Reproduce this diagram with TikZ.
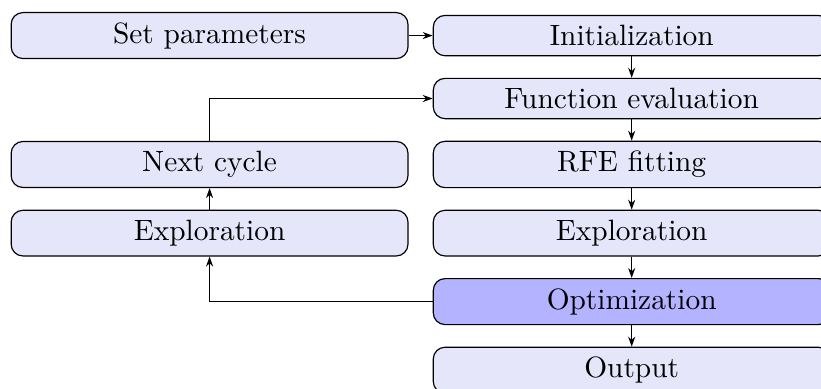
\documentclass[tikz,border=0pt]{standalone}
\usepackage{xcolor}
\usepackage{tikz}
\usetikzlibrary{arrows.meta,positioning}
\definecolor{steplav}{HTML}{E6E6FA}
\definecolor{optlav}{HTML}{B3B3FF}
\tikzset{
  stepnode/.style={rectangle,rounded corners=4pt,draw=black,fill=steplav,minimum width=135pt,inner sep=3.33pt,font=\normalsize},
  optnode/.style={stepnode,fill=optlav},
  flowedge/.style={-{Stealth[length=3.4pt,width=2.4pt]},black},
}

\begin{document}
\begin{tikzpicture}[node distance=7.3pt]
  \useasboundingbox (-71.3pt,12.1pt) rectangle (208.0pt,-120.2pt);
  \node[stepnode] (nSet) at (0,0) {Set parameters};
  \node[stepnode,right=8.2pt of nSet] (nInit) {Initialization};
  \node[stepnode,below=of nInit] (nEval) {Function evaluation};
  \node[stepnode,below=of nEval] (nFit) {RFE fitting};
  \node[stepnode,below=of nFit] (nExpR) {Exploration};
  \node[optnode,below=of nExpR] (nOpt) {Optimization};
  \node[stepnode,below=of nOpt] (nOut) {Output};
  \node[stepnode] (nNext) at (nSet |- nFit) {Next cycle};
  \node[stepnode] (nExpL) at (nSet |- nExpR) {Exploration};
  \draw[flowedge] (nSet) -- (nInit);
  \draw[flowedge] (nInit) -- (nEval);
  \draw[flowedge] (nEval) -- (nFit);
  \draw[flowedge] (nFit) -- (nExpR);
  \draw[flowedge] (nExpR) -- (nOpt);
  \draw[flowedge] (nOpt) -- (nOut);
  \draw[flowedge] (nOpt.west) -| (nExpL.south);
  \draw[flowedge] (nExpL) -- (nNext);
  \draw[flowedge] (nNext.north) |- (nEval.west);
\end{tikzpicture}
\end{document}
